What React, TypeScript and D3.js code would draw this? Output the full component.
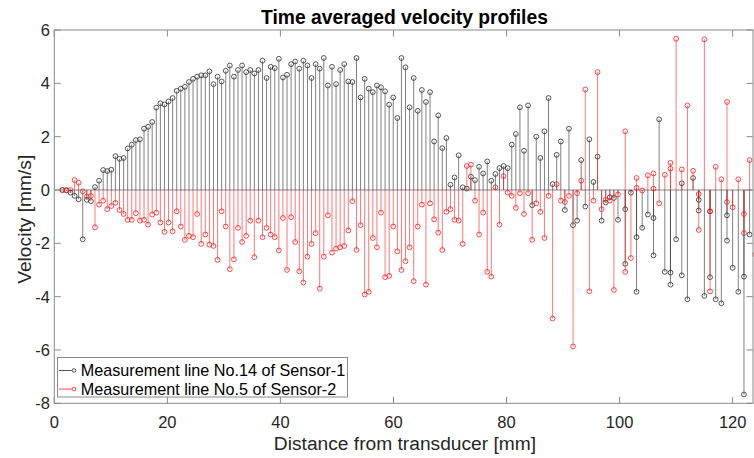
import React from 'react';
import * as d3 from 'd3';

// ---- data ----
const xTicks = [0, 20, 40, 60, 80, 100, 120];
const yTicks = [-8, -6, -4, -2, 0, 2, 4, 6];

// near-field channels (uniform channel grid)
const nearStart = 1.415;
const nearStep = 0.7228;

const sensor1Near = [
  0, -0.02, -0.1, -0.22, -0.35, -1.85, -0.37, -0.42, 0.11, 0.35, 0.75, 0.71, 0.76, 1.27, 1.17, 1.2, 1.56, 1.7, 1.87, 1.9, 2.3, 2.37, 2.55, 3.09, 3.25, 3.21, 3.32, 3.45,
  3.72, 3.8, 3.87, 4.05, 4.17, 4.25, 4.3, 4.3, 4.45, 3.97, 4.25, 4.07, 4.47, 4.67, 4.25, 4.5, 4.67, 4.42, 4.5, 4.37, 4.5, 4.85, 4.2, 4.62, 4.57, 4.92, 4.22, 4.32, 4.72,
  4.82, 4.55, 4.85, 4.67, 4.2, 4.72, 4.55, 4.95, 3.92, 4.62, 3.97, 4.5, 4.72, 4.07, 4.05, 4.95, 3.47, 4.17, 3.8, 3.67, 3.92, 3.85, 3.7, 3.2, 3.47, 2.7, 4.95, 4.6, 3.1, 4.2,
  2.97, 3.75, 3.3, 3.67, 1.82, 2.8, 1.57, 1.95, 0.2, 0.47, 1.3, 0.1, 0.05, 0.5, 0.37, 0.87, 0.62, 1.07, 0.35, 0.6, 0.82, 0.9, 0.82, 1.7, 2.1, 3.1, 1.47, 3.17, -0.57,
  2.0, 1.2, 2.2, 3.45, 0.22, 1.32, 1.82, -0.75, 2.3, -1.32, -1.15, 1.12, -0.62, 1.9, 0.3, 1.25, -1.15, -0.47, -0.27, -0.3, -1.12,
];

const sensor2Near = [
  0, 0, 0, 0.37, 0.27, -0.05, -0.25, -0.22, -1.4, -0.55, -0.4, -0.72, -0.6, -0.48, -0.75, -0.9, -1.12, -1.12, -0.87, -1.15, -1.12, -1.3, -0.92, -0.85, -1.22, -1.57, -1.22, -1.55,
  -0.8, -1.37, -1.87, -1.72, -1.77, -0.9, -2.02, -1.67, -2.05, -2.1, -2.62, -0.8, -1.37, -2.97, -2.6, -1.42, -1.95, -1.72, -1.15, -2.52, -1.15, -1.77, -1.42, -1.67, -1.77, -2.27, -1.05, -3.0, -1.02,
  -1.95, -3.05, -3.47, -2.5, -2.02, -1.62, -3.7, -2.5, -0.95, -2.35, -2.2, -2.15, -2.1, -1.52, -0.42, -2.25, -1.32, -3.92, -3.82, -1.8, -2.15, -0.85, -3.27, -3.22, -1.37, -2.3, -3.0, -2.67, -2.15, -3.42,
  -1.37, -0.55, -3.55, -0.5, -1.1, -1.6, -2.25, -0.82, -0.72, -1.12, -1.15, -2.02, 0.9, 0.95, -0.4, -1.67, -0.85, -3.07, -3.25, 0.1, -1.3, 0.52, -0.1, -0.22, -0.67, -0.12, -0.9, -0.12, -1.87,
  -0.5, -0.82, -1.8, -0.22, -4.82, 0.22, -0.4, -0.45, -0.22, -5.87, -0.12, 0.35, 3.77, -3.8, -0.4, 4.42, -0.72, -0.37, -0.4, -3.75, -0.17,
];

// far-field positions [mm]
const farDistance = [101, 102, 103, 104, 105, 106, 107, 108, 109, 110, 111, 112, 113, 114, 115, 116, 117, 118, 119, 120, 121, 122, 123, 124];
const sensor1FarA = [-0.72, -0.1, -1.77, -1.42, -0.92, -1.05, 2.65, -3.07, -3.1, -1.85, 0.25, -4.1, 0.45, -0.37, -3.97, -0.8, -4.1, -4.25, -0.95, -2.92, -3.82, -3.25, -1.67, null];
const sensor1FarB = [-2.77, null, -3.82, null, null, -2.45, null, null, -3.55, null, -3.2, null, null, -0.77, null, -3.27, null, null, -1.9, null, null, -7.67, null, null];
const sensor2FarA = [2.2, -2.55, 0.45, -0.02, 0.55, 0.62, -0.5, 0.57, 1.02, 5.67, 0.77, 3.17, 0.72, -0.15, 5.65, -0.8, 0.87, 0.4, 3.3, -0.65, 0.4, -0.9, 1.12, -2.42];
const sensor2FarB = [-3.07, null, 0.08, null, null, 0.05, null, null, 0.8, null, null, null, null, -1.5, null, -3.8, null, null, -0.45, null, null, -1.62, null, null];

const legendLabels = ['Measurement line No.14 of Sensor-1', 'Measurement line No.5 of Sensor-2'];
const seriesColors = ['#2b2b2b', '#ff1a1a'];

type Pt = { d: number; v: number };

function buildSeries(near: number[], farA: (number | null)[], farB: (number | null)[]): Pt[] {
  const pts: Pt[] = near.map((v, i) => ({ d: nearStart + i * nearStep, v }));
  farDistance.forEach((d, i) => {
    if (farA[i] != null) pts.push({ d, v: farA[i] as number });
    if (farB[i] != null) pts.push({ d, v: farB[i] as number });
  });
  return pts;
}

const series = [
  buildSeries(sensor1Near, sensor1FarA, sensor1FarB),
  buildSeries(sensor2Near, sensor2FarA, sensor2FarB),
];

const W = 754;
const H = 458;
const L = 54.3, R = 753, T = 30, B = 403.3;
const FONT = '"Liberation Sans", Arial, Helvetica, sans-serif';

export default function App() {
  const x = d3.scaleLinear().domain([0, 123.6]).range([L, R]);
  const y = d3.scaleLinear().domain([-8, 6]).range([B, T]);
  const axisColor = '#8a8a8a';
  const textColor = '#262626';
  const tickLen = 6.5;

  return (
    <svg width={W} height={H} style={{ position: 'absolute', left: 0, top: 0, background: '#fff' }} fontFamily={FONT}>
      <rect x={0} y={0} width={W} height={H} fill="#fff" />
      {/* baseline */}
      <line x1={L} x2={R} y1={y(0)} y2={y(0)} stroke="#555" strokeWidth={0.7} />
      {series.map((pts, si) => (
        <g key={si} stroke={seriesColors[si]} fill="none">
          {pts.map((p, i) => (
            <line key={'s' + i} x1={x(p.d)} x2={x(p.d)} y1={y(0)} y2={y(p.v)} strokeWidth={0.7} strokeOpacity={0.85} />
          ))}
          {pts.map((p, i) => (
            <circle key={'m' + i} cx={x(p.d)} cy={y(p.v)} r={2.4} strokeWidth={0.8} />
          ))}
        </g>
      ))}
      {/* box */}
      <rect x={L} y={T} width={R - L} height={B - T} fill="none" stroke={axisColor} strokeWidth={1} />
      {xTicks.map((t) => (
        <g key={'x' + t}>
          <line x1={x(t)} x2={x(t)} y1={B} y2={B - tickLen} stroke={axisColor} />
          <line x1={x(t)} x2={x(t)} y1={T} y2={T + tickLen} stroke={axisColor} />
          <text x={x(t)} y={428.3} textAnchor="middle" fontSize={16.5} fill={textColor}>{t}</text>
        </g>
      ))}
      {yTicks.map((t) => (
        <g key={'y' + t}>
          <line x1={L} x2={L + tickLen} y1={y(t)} y2={y(t)} stroke={axisColor} />
          <line x1={R} x2={R - tickLen} y1={y(t)} y2={y(t)} stroke={axisColor} />
          <text x={50} y={y(t)} dy="0.36em" textAnchor="end" fontSize={16.5} fill={textColor}>{t}</text>
        </g>
      ))}
      {/* title & labels */}
      <text x={404.5} y={24} textAnchor="middle" fontSize={19.3} fontWeight="bold" fill="#000">Time averaged velocity profiles</text>
      <text x={405} y={450.3} textAnchor="middle" fontSize={19.2} fill={textColor}>Distance from transducer [mm]</text>
      <text transform={`translate(30.5,219.3) rotate(-90)`} textAnchor="middle" fontSize={19.2} fill={textColor}>Velocity [mm/s]</text>
      {/* legend */}
      <g>
        <rect x={57.5} y={357.5} width={290} height={39.5} fill="#fff" stroke={axisColor} strokeWidth={1} />
        {legendLabels.map((lab, i) => {
          const cy = 370.5 + i * 18.6;
          return (
            <g key={lab}>
              <line x1={59} x2={72} y1={cy} y2={cy} stroke={seriesColors[i]} strokeWidth={0.8} />
              <circle cx={74} cy={cy} r={1.8} fill="none" stroke={seriesColors[i]} strokeWidth={0.8} />
              <text x={80.7} y={cy} dy="0.36em" fontSize={16.2} fill="#000">{lab}</text>
            </g>
          );
        })}
      </g>
    </svg>
  );
}
